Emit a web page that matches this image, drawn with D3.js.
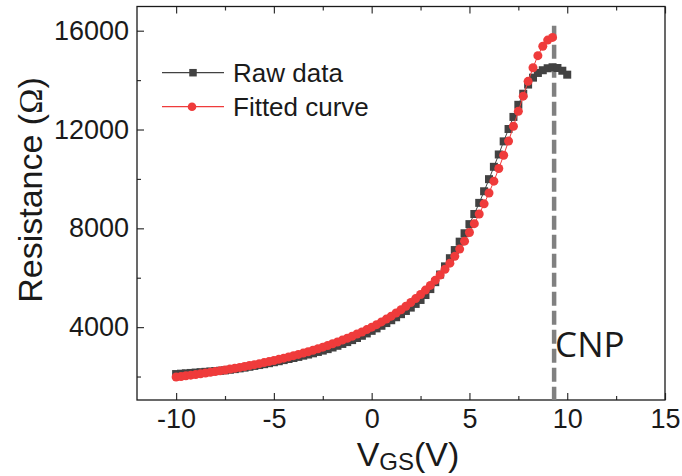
<!DOCTYPE html>
<html>
<head>
<meta charset="utf-8">
<script src="https://cdn.jsdelivr.net/npm/d3@7"></script>
<style>
  body { margin: 0; background: #fff; }
  svg { display: block; }
  text { font-family: "Liberation Sans", Arial, sans-serif; fill: #1a1a1a; }
</style>
</head>
<body>
<svg id="chart" width="682" height="476"></svg>
<script>
// Gate sweep: -10 V to +10 V in 0.25 V steps
const vgsStart = -10;
const vgsStep = 0.25;

// Measured resistance (Ω), -10 V … 10 V
const rawResistance = [
  2100, 2115, 2130, 2145, 2160, 2175, 2190, 2205, 2220, 2235,
  2250, 2275, 2300, 2330, 2360, 2395, 2430, 2465, 2500, 2540,
  2580, 2620, 2665, 2710, 2750, 2795, 2845, 2890, 2940, 2995,
  3050, 3110, 3175, 3245, 3320, 3395, 3475, 3560, 3650, 3745,
  3850, 3950, 4055, 4165, 4280, 4400, 4525, 4655, 4790, 4940,
  5100, 5300, 5540, 5820, 6130, 6460, 6790, 7120, 7460, 7800,
  8170, 8580, 9030, 9500, 9990, 10490, 10990, 11520, 12020, 12510,
  13000, 13450, 13820, 14100, 14290, 14400, 14480, 14520, 14490, 14380,
  14220
];

// Fitted resistance (Ω), -10 V … 9.25 V
const fitResistance = [
  1980, 2000, 2030, 2055, 2080, 2110, 2140, 2170, 2200, 2230,
  2265, 2300, 2335, 2370, 2405, 2445, 2480, 2520, 2565, 2605,
  2650, 2695, 2745, 2795, 2845, 2895, 2950, 3005, 3065, 3125,
  3190, 3255, 3325, 3400, 3475, 3550, 3630, 3720, 3805, 3900,
  4000, 4100, 4210, 4325, 4445, 4570, 4705, 4845, 4995, 5155,
  5320, 5500, 5690, 5895, 6110, 6345, 6590, 6865, 7160, 7480,
  7830, 8190, 8580, 8990, 9430, 9910, 10420, 10960, 11530, 12130,
  12740, 13350, 13950, 14500, 14990, 15370, 15620, 15730
];

const xMajorTicks = [-10, -5, 0, 5, 10, 15];
const xMinorTicks = [-7.5, -2.5, 2.5, 7.5, 12.5];
const yMajorTicks = [4000, 8000, 12000, 16000];
const yMinorTicks = [2000, 6000, 10000, 14000];

const cnpVoltage = 9.33;
const cnpTop = 16200;
const legendLabels = ["Raw data", "Fitted curve"];

const rawColor = "#424242";
const fitColor = "#ef3b3b";

const rawPoints = rawResistance.map((r, i) => ({ v: vgsStart + i * vgsStep, r }));
const fitPoints = fitResistance.map((r, i) => ({ v: vgsStart + i * vgsStep, r }));

const svg = d3.select("#chart");
const plotLeft = 137, plotRight = 665, plotTop = 6.5, plotBottom = 400;

const x = d3.scaleLinear().domain([-12, 15]).range([plotLeft, plotRight]);
const y = d3.scaleLinear().domain([1050, 16980]).range([plotBottom, plotTop]);

// Plain hyphen-minus tick labels
const plainNumber = d => String(d);

// Axes with inward ticks
function styleAxis(g) {
  g.select(".domain").remove();
  g.selectAll(".tick line").attr("stroke", "#333").attr("stroke-width", 1.2);
  g.selectAll(".tick text").style("font-size", "27px").attr("fill", "#1a1a1a");
}

svg.append("g").attr("transform", `translate(0,${plotBottom})`)
  .call(d3.axisBottom(x).tickValues(xMajorTicks).tickSize(-7).tickPadding(9).tickFormat(plainNumber))
  .call(styleAxis);
svg.append("g").attr("transform", `translate(0,${plotBottom})`)
  .call(d3.axisBottom(x).tickValues(xMinorTicks).tickSize(-4).tickFormat(""))
  .call(styleAxis);
svg.append("g").attr("transform", `translate(0,${plotTop})`)
  .call(d3.axisTop(x).tickValues(xMajorTicks.concat(xMinorTicks)).tickSize(0).tickFormat(""))
  .call(g => {
    g.selectAll(".tick line")
      .attr("y2", d => xMajorTicks.includes(d) ? 7 : 4);
  })
  .call(styleAxis);
svg.append("g").attr("transform", `translate(${plotLeft},0)`)
  .call(d3.axisLeft(y).tickValues(yMajorTicks).tickSize(-7).tickPadding(8).tickFormat(plainNumber))
  .call(styleAxis);
svg.append("g").attr("transform", `translate(${plotLeft},0)`)
  .call(d3.axisLeft(y).tickValues(yMinorTicks).tickSize(-4).tickFormat(""))
  .call(styleAxis);

// Plot frame
svg.append("rect")
  .attr("x", plotLeft).attr("y", plotTop)
  .attr("width", plotRight - plotLeft).attr("height", plotBottom - plotTop)
  .attr("fill", "none").attr("stroke", "#1a1a1a").attr("stroke-width", 1.3);

// Charge neutrality point marker
svg.append("line")
  .attr("x1", x(cnpVoltage)).attr("x2", x(cnpVoltage))
  .attr("y1", y(cnpTop)).attr("y2", plotBottom)
  .attr("stroke", "#808080").attr("stroke-width", 4.5)
  .attr("stroke-dasharray", "14,5");

svg.append("text")
  .attr("x", x(cnpVoltage) + 1).attr("y", 357)
  .style("font-family", "'Open Sans', sans-serif")
  .style("font-size", "35px").attr("fill", "#111")
  .text("CNP");

const line = d3.line().x(d => x(d.v)).y(d => y(d.r));

// Raw data: line + squares
svg.append("path").datum(rawPoints)
  .attr("d", line).attr("fill", "none")
  .attr("stroke", rawColor).attr("stroke-width", 1);
const sq = 8;
svg.append("g").selectAll("rect").data(rawPoints).join("rect")
  .attr("x", d => x(d.v) - sq / 2).attr("y", d => y(d.r) - sq / 2)
  .attr("width", sq).attr("height", sq).attr("fill", rawColor);

// Fitted curve: line + circles
const dotR = 4.5;
svg.append("path").datum(fitPoints)
  .attr("d", line).attr("fill", "none")
  .attr("stroke", fitColor).attr("stroke-width", 1);
svg.append("g").selectAll("circle").data(fitPoints).join("circle")
  .attr("cx", d => x(d.v)).attr("cy", d => y(d.r))
  .attr("r", dotR).attr("fill", fitColor);

// Legend
const legendRows = [
  { label: legendLabels[0], color: rawColor, shape: "square", cy: 72.7 },
  { label: legendLabels[1], color: fitColor, shape: "circle", cy: 106.7 }
];
const lg = svg.append("g");
legendRows.forEach(row => {
  lg.append("line").attr("x1", 162).attr("x2", 224)
    .attr("y1", row.cy).attr("y2", row.cy)
    .attr("stroke", row.color).attr("stroke-width", 1.2);
  if (row.shape === "square") {
    lg.append("rect").attr("x", 193 - 7.5 / 2).attr("y", row.cy - 7.5 / 2)
      .attr("width", 7.5).attr("height", 7.5).attr("fill", row.color);
  } else {
    lg.append("circle").attr("cx", 192).attr("cy", row.cy).attr("r", 4.3).attr("fill", row.color);
  }
  lg.append("text").attr("x", 233).attr("y", row.cy + 9.2)
    .style("font-size", "26px").text(row.label);
});

// Axis titles
const yTitle = svg.append("text")
  .attr("transform", "translate(42,190) rotate(-90)")
  .attr("text-anchor", "middle")
  .style("font-size", "34px");
yTitle.append("tspan").text("Resistance (");
yTitle.append("tspan").style("font-family", "'Liberation Serif', serif").text("Ω");
yTitle.append("tspan").text(")");

const xTitle = svg.append("text")
  .attr("x", 408).attr("y", 466)
  .attr("text-anchor", "middle")
  .style("font-size", "34px");
xTitle.append("tspan").text("V");
xTitle.append("tspan").attr("dy", 4).style("font-size", "24px").text("GS");
xTitle.append("tspan").attr("dy", -4).text("(V)");
</script>
</body>
</html>
